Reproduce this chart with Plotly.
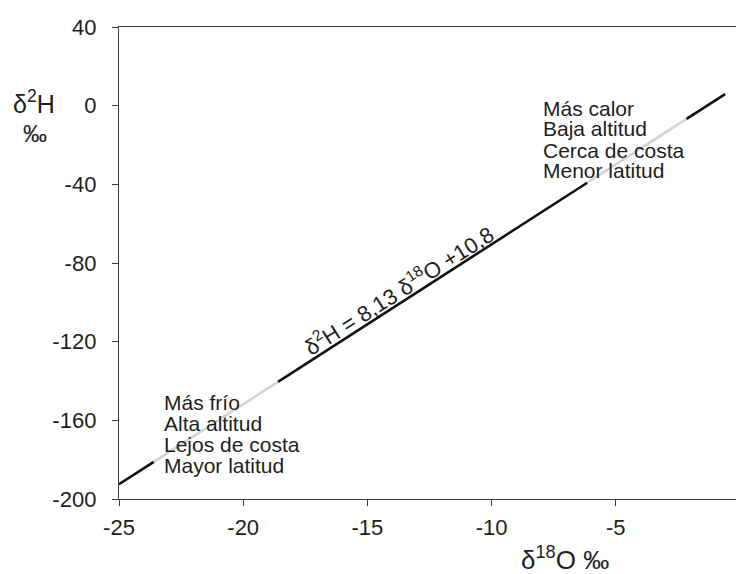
import plotly.graph_objects as go

# Breakpoints along the meteoric water line (δ18O, δ2H)
d18O = [-25.0, -23.6, -18.6, -6.15, -2.15, -0.6]
d2H = [-192.5, -181.1, -140.4, -39.2, -6.7, 5.9]
seg_colors = ["#111111", "#d3d3d3", "#111111", "#d3d3d3", "#111111"]

x_ticks = [-25, -20, -15, -10, -5, 0]
y_ticks = [-200, -160, -120, -80, -40, 0, 40]

warm_text = ["Más calor", "Baja altitud", "Cerca de costa", "Menor latitud"]
cold_text = ["Más frío", "Alta altitud", "Lejos de costa", "Mayor latitud"]
equation = "δ<sup>2</sup>H = 8,13 δ<sup>18</sup>O +10,8"

FONT = "Liberation Sans, Arial, sans-serif"
TXT = "#1e1e1e"
AX = "#3c3c3c"

# figure geometry (page has an 8px body margin)
W, H = 736, 566
ML, MR, MT, MB = 111, 4, 19, 75
PW, PH = W - ML - MR, H - MT - MB
OFF = 8


def px(xw):
    return (xw - OFF - ML) / PW


def py(yw):
    return (H - MB - (yw - OFF)) / PH


fig = go.Figure()
for i, c in enumerate(seg_colors):
    fig.add_trace(go.Scatter(
        x=d18O[i:i + 2], y=d2H[i:i + 2], mode="lines",
        line=dict(color=c, width=2.6), showlegend=False, hoverinfo="skip"))

fig.update_layout(
    width=W, height=H,
    margin=dict(l=ML, r=MR, t=MT, b=MB, pad=0),
    paper_bgcolor="white", plot_bgcolor="white",
    font=dict(family=FONT, color=TXT, size=22),
    showlegend=False,
)
common = dict(showgrid=False, zeroline=False, showline=True, linecolor=AX, linewidth=1.4,
              mirror=True, ticks="outside", ticklen=6, tickcolor=AX, tickwidth=1.4,
              tickfont=dict(size=22, family=FONT, color=TXT), automargin=False)
fig.update_xaxes(range=[-25, 0], tickvals=x_ticks, ticktext=[str(v) for v in x_ticks],
                 ticklabelstandoff=2, **common)
fig.update_yaxes(range=[-200, 40], tickvals=y_ticks, ticktext=[str(v) for v in y_ticks],
                 ticklabelstandoff=11, **common)

warm_y = [108, 129, 150, 171]
for t, yy in zip(warm_text, warm_y):
    fig.add_annotation(x=px(541), y=py(yy), xref="paper", yref="paper", text=t,
                       showarrow=False, xanchor="left", yanchor="middle", align="left",
                       font=dict(size=21, family=FONT, color=TXT))
cold_y = [402, 423, 444, 465]
for t, yy in zip(cold_text, cold_y):
    fig.add_annotation(x=px(162), y=py(yy), xref="paper", yref="paper", text=t,
                       showarrow=False, xanchor="left", yanchor="middle", align="left",
                       font=dict(size=21, family=FONT, color=TXT))

fig.add_annotation(x=px(398), y=py(290), xref="paper", yref="paper", text=equation,
                   textangle=-32.5, showarrow=False, xanchor="center", yanchor="middle",
                   font=dict(size=22, family=FONT, color=TXT))

fig.add_annotation(x=px(565), y=py(558), xref="paper", yref="paper",
                   text="δ<sup>18</sup>O ‰", showarrow=False,
                   xanchor="center", yanchor="middle",
                   font=dict(size=26, family=FONT, color=TXT))
fig.add_annotation(x=px(34), y=py(102), xref="paper", yref="paper",
                   text="δ<sup>2</sup>H", showarrow=False,
                   xanchor="center", yanchor="middle",
                   font=dict(size=25, family=FONT, color=TXT))
fig.add_annotation(x=px(35), y=py(134), xref="paper", yref="paper",
                   text="‰", showarrow=False,
                   xanchor="center", yanchor="middle",
                   font=dict(size=24, family=FONT, color=TXT))

fig.write_html("out.html")
